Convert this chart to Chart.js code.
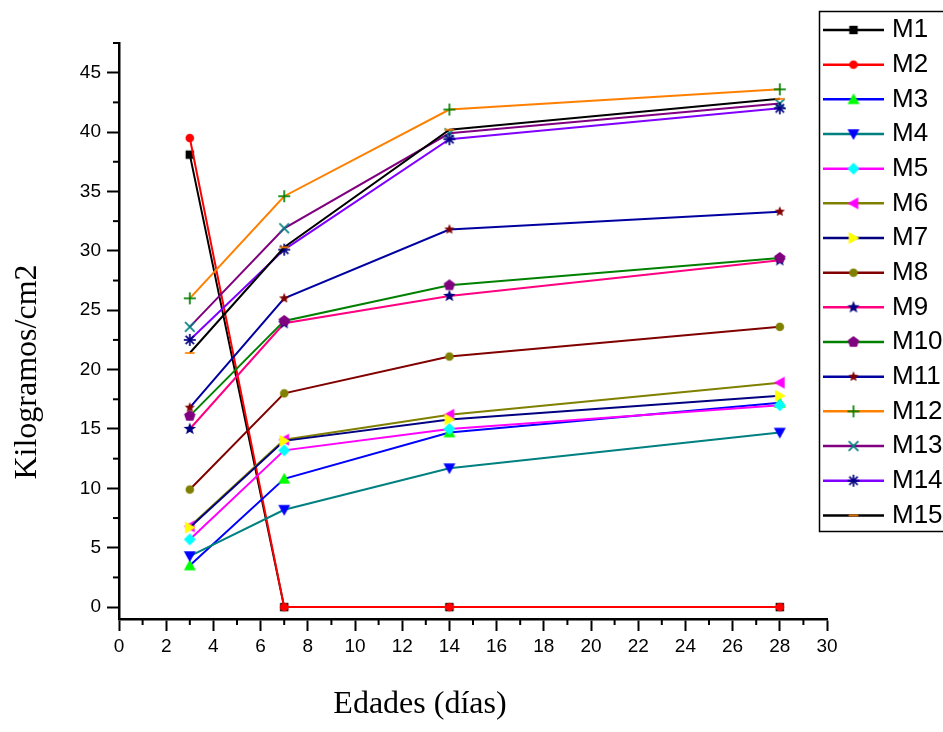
<!DOCTYPE html>
<html>
<head>
<meta charset="utf-8">
<script src="https://cdn.jsdelivr.net/npm/chart.js@4.4.1/dist/chart.umd.min.js"></script>
<style>
  html, body { margin: 0; padding: 0; background: #fff; }
  #wrap { width: 943px; height: 732px; }
</style>
</head>
<body>
<div id="wrap"><canvas id="kgChart" width="943" height="732"></canvas></div>
<script>
// ages (days) where every mix was tested
const ages = [3, 7, 14, 28];
const seriesNames = ['M1', 'M2', 'M3', 'M4', 'M5', 'M6', 'M7', 'M8', 'M9', 'M10', 'M11', 'M12', 'M13', 'M14', 'M15'];

// kg/cm2 for each mix
const m1 = [38.1, 0, 0, 0];
const m2 = [39.5, 0, 0, 0];
const m3 = [3.5, 10.8, 14.7, 17.2];
const m4 = [4.3, 8.2, 11.7, 14.7];
const m5 = [5.7, 13.2, 15.0, 17.0];
const m6 = [6.8, 14.1, 16.2, 18.9];
const m7 = [6.7, 14.0, 15.8, 17.8];
const m8 = [9.9, 18.0, 21.1, 23.6];
const m9 = [15.0, 23.9, 26.2, 29.2];
const m10 = [16.1, 24.1, 27.1, 29.4];
const m11 = [16.8, 26.0, 31.8, 33.3];
const m12 = [26.0, 34.6, 41.9, 43.6];
const m13 = [23.6, 31.9, 39.9, 42.4];
const m14 = [22.5, 30.1, 39.4, 42.0];
const m15 = [21.4, 30.3, 40.2, 42.8];
const seriesValues = [m1, m2, m3, m4, m5, m6, m7, m8, m9, m10, m11, m12, m13, m14, m15];

// tick labels
const xTicks = [0, 2, 4, 6, 8, 10, 12, 14, 16, 18, 20, 22, 24, 26, 28, 30];
const yTicks = [0, 5, 10, 15, 20, 25, 30, 35, 40, 45];
const xMinor = [1, 3, 5, 7, 9, 11, 13, 15, 17, 19, 21, 23, 25, 27, 29];
const yMinor = [2.5, 7.5, 12.5, 17.5, 22.5, 27.5, 32.5, 37.5, 42.5, 47.5];

// origin-like styling
const lineColors = ['#000000', '#ff0000', '#0000ff', '#008080', '#ff00ff', '#808000', '#000080', '#800000',
  '#ff0080', '#008000', '#0000a0', '#ff8000', '#800080', '#8000ff', '#000000'];
const markerColors = ['#000000', '#ff0000', '#00ff00', '#0000ff', '#00ffff', '#ff00ff', '#ffff00', '#808000',
  '#000080', '#800080', '#800000', '#008000', '#008080', '#000080', '#ff8000'];
const markerShapes = ['square', 'circle', 'up', 'down', 'diamond', 'left', 'right', 'circle',
  'star', 'pentagon', 'smallstar', 'plus', 'x', 'asterisk', 'dash'];

//draws a little marker on its own canvas so it can be used as pointStyle.
function makeMarker(shape, color) {
  const c = document.createElement('canvas');
  c.width = 16; c.height = 16;
  const g = c.getContext('2d');
  g.translate(8, 8);
  g.scale(1.2, 1.2);
  const m = 0;
  g.fillStyle = color;
  g.strokeStyle = color;
  g.lineWidth = 1.4;
  const poly = pts => {
    g.beginPath();
    pts.forEach(([px, py], i) => i ? g.lineTo(m + px, m + py) : g.moveTo(m + px, m + py));
    g.closePath();
    g.fill();
  };
  const starPts = (outer, inner) => {
    const pts = [];
    for (let k = 0; k < 10; k++) {
      const r = k % 2 ? inner : outer;
      const a = -Math.PI / 2 + k * Math.PI / 5;
      pts.push([r * Math.cos(a), r * Math.sin(a)]);
    }
    return pts;
  };
  const seg = (x1, y1, x2, y2) => {
    g.beginPath(); g.moveTo(m + x1, m + y1); g.lineTo(m + x2, m + y2); g.stroke();
  };
  switch (shape) {
    case 'square': g.fillRect(-3.5, -3.5, 7, 7); break;
    case 'circle': g.beginPath(); g.arc(0, 0, 3.6, 0, 2 * Math.PI); g.fill(); break;
    case 'up': poly([[0, -5], [5, 4], [-5, 4]]); break;
    case 'down': poly([[0, 5], [5, -4], [-5, -4]]); break;
    case 'left': poly([[-5, 0], [4, -5], [4, 5]]); break;
    case 'right': poly([[5, 0], [-4, -5], [-4, 5]]); break;
    case 'diamond': poly([[0, -5], [5, 0], [0, 5], [-5, 0]]); break;
    case 'star': poly(starPts(5.5, 2.3)); break;
    case 'smallstar': poly(starPts(4.5, 2.0)); break;
    case 'pentagon': {
      const pts = [];
      for (let k = 0; k < 5; k++) {
        const a = -Math.PI / 2 + k * 2 * Math.PI / 5;
        pts.push([5 * Math.cos(a), 5 * Math.sin(a)]);
      }
      poly(pts);
      break;
    }
    case 'plus': seg(-5, 0, 5, 0); seg(0, -5, 0, 5); break;
    case 'x': seg(-4, -4, 4, 4); seg(-4, 4, 4, -4); break;
    case 'asterisk': seg(-5, 0, 5, 0); seg(0, -5, 0, 5); seg(-3.5, -3.5, 3.5, 3.5); seg(-3.5, 3.5, 3.5, -3.5); break;
    case 'dash': seg(-4, 0, 4, 0); break;
  }
  return c;
}

const markers = markerShapes.map((s, i) => makeMarker(s, markerColors[i]));

const datasets = seriesNames.map((name, i) => ({
  label: name,
  data: ages.map((a, k) => ({ x: a, y: seriesValues[i][k] })),
  borderColor: lineColors[i],
  backgroundColor: lineColors[i],
  borderWidth: 2,
  pointStyle: markers[i],
  pointRadius: 5,
  tension: 0,
  fill: false,
  order: seriesNames.length - i
}));

//plugin for minor ticks, axis titles and the boxed legend.
const originLook = {
  id: 'originLook',
  afterDraw(chart) {
    const ctx = chart.ctx;
    const xs = chart.scales.x, ys = chart.scales.y;
    ctx.save();
    ctx.strokeStyle = '#000';
    ctx.lineWidth = 2;
    xMinor.forEach(v => {
      const px = xs.getPixelForValue(v);
      ctx.beginPath(); ctx.moveTo(px, ys.bottom); ctx.lineTo(px, ys.bottom + 6); ctx.stroke();
    });
    yMinor.forEach(v => {
      const py = ys.getPixelForValue(v);
      ctx.beginPath(); ctx.moveTo(xs.left, py); ctx.lineTo(xs.left - 6, py); ctx.stroke();
    });

    ctx.fillStyle = '#000';
    ctx.font = '32px "Liberation Serif"';
    ctx.textAlign = 'center';
    ctx.textBaseline = 'middle';
    ctx.fillText('Edades (días)', 420, 705);
    ctx.save();
    ctx.translate(28, 372);
    ctx.rotate(-Math.PI / 2);
    ctx.fillText('Kilogramos/cm2', 0, 0);
    ctx.restore();

    // legend
    ctx.lineWidth = 1.5;
    ctx.strokeRect(819.5, 11.5, 140, 520);
    ctx.font = '26px "Liberation Sans"';
    ctx.textAlign = 'left';
    seriesNames.forEach((name, i) => {
      const y = 30 + i * 34.67;
      ctx.strokeStyle = lineColors[i];
      ctx.lineWidth = 2.5;
      ctx.beginPath(); ctx.moveTo(823, y); ctx.lineTo(884, y); ctx.stroke();
      ctx.drawImage(markers[i], 853.5 - 8, y - 8);
      ctx.fillStyle = '#000';
      ctx.fillText(name, 892, y);
    });
    ctx.restore();
  }
};

new Chart(document.getElementById('kgChart'), {
  type: 'line',
  data: { datasets: datasets },
  plugins: [originLook],
  options: {
    responsive: false,
    animation: false,
    devicePixelRatio: 1,
    layout: { padding: { left: 0, top: 43, right: 116, bottom: 63 } },
    plugins: { legend: { display: false }, tooltip: { enabled: false } },
    scales: {
      x: {
        type: 'linear',
        min: 0,
        max: 30,
        afterBuildTicks: axis => { axis.ticks = xTicks.map(v => ({ value: v })); },
        afterFit: scale => { scale.height = 50; },
        ticks: { color: '#000', font: { size: 19, family: 'Liberation Sans' }, padding: 4, maxRotation: 0, autoSkip: false },
        grid: { drawOnChartArea: false, drawTicks: true, tickLength: 12, tickWidth: 2, color: '#000', tickColor: '#000' },
        border: { display: true, color: '#000', width: 2.5 }
      },
      y: {
        type: 'linear',
        min: -1,
        max: 47.5,
        afterBuildTicks: axis => { axis.ticks = yTicks.map(v => ({ value: v })); },
        afterFit: scale => { scale.width = 119; },
        ticks: { color: '#000', font: { size: 19, family: 'Liberation Sans' }, padding: 6, autoSkip: false },
        grid: { drawOnChartArea: false, drawTicks: true, tickLength: 12, tickWidth: 2, color: '#000', tickColor: '#000' },
        border: { display: true, color: '#000', width: 2.5 }
      }
    }
  }
});
</script>
</body>
</html>
